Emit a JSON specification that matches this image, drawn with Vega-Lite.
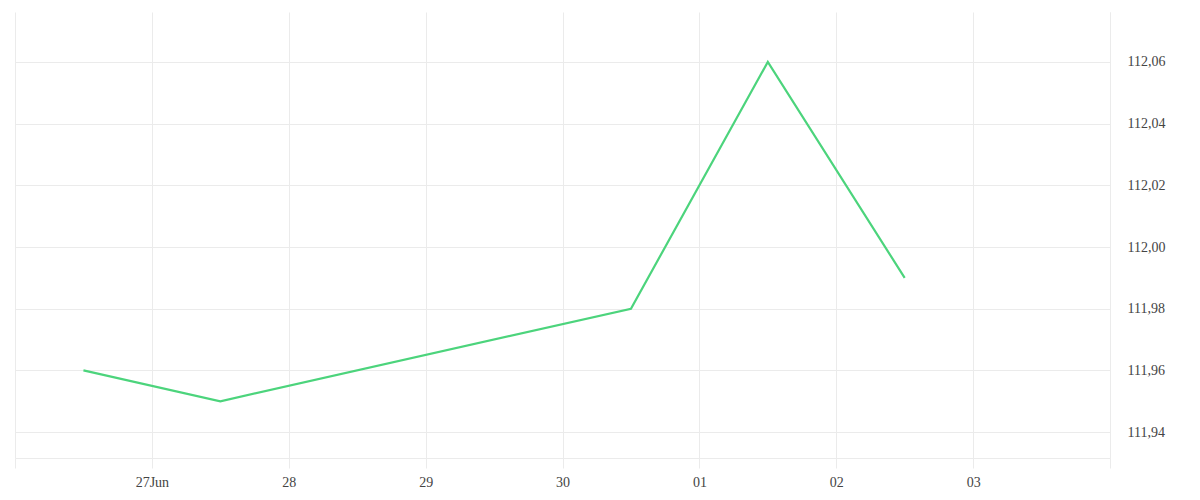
{
  "$schema": "https://vega.github.io/schema/vega-lite/v6.json",
  "width": 1095,
  "height": 446,
  "autosize": {"type": "none"},
  "padding": {"left": 15, "top": 12, "right": 90, "bottom": 42},
  "background": "white",
  "config": {
    "view": {"stroke": null},
    "axis": {"labelFont": "Liberation Serif", "labelFontSize": 14, "labelColor": "#444444", "gridColor": "#ebebeb", "gridWidth": 1}
  },
  "data": {
    "values": [
      {"date": "2024-06-26T12:00:00Z", "value": 111.96},
      {"date": "2024-06-27T12:00:00Z", "value": 111.95},
      {"date": "2024-06-30T12:00:00Z", "value": 111.98},
      {"date": "2024-07-01T12:00:00Z", "value": 112.06},
      {"date": "2024-07-02T12:00:00Z", "value": 111.99}
    ]
  },
  "mark": {"type": "line", "color": "#4cd47c", "strokeWidth": 2.2},
  "encoding": {
    "x": {
      "field": "date",
      "type": "temporal",
      "scale": {"type": "utc", "domain": [{"year": 2024, "month": 6, "date": 26, "utc": true}, {"year": 2024, "month": 7, "date": 4, "utc": true}], "nice": false},
      "axis": {
        "title": null,
        "values": [
          {"year": 2024, "month": 6, "date": 26, "utc": true},
          {"year": 2024, "month": 6, "date": 27, "utc": true},
          {"year": 2024, "month": 6, "date": 28, "utc": true},
          {"year": 2024, "month": 6, "date": 29, "utc": true},
          {"year": 2024, "month": 6, "date": 30, "utc": true},
          {"year": 2024, "month": 7, "date": 1, "utc": true},
          {"year": 2024, "month": 7, "date": 2, "utc": true},
          {"year": 2024, "month": 7, "date": 3, "utc": true},
          {"year": 2024, "month": 7, "date": 4, "utc": true}
        ],
        "labelExpr": "datum.index == 0 || datum.index == 1 ? '' : (datum.index < 0.2 ? utcFormat(datum.value, '%d%b') : utcFormat(datum.value, '%d'))",
        "grid": true,
        "domain": true,
        "domainColor": "#ebebeb",
        "ticks": true,
        "tickColor": "#ebebeb",
        "tickSize": 10,
        "labelPadding": 7,
        "labelFlush": false,
        "labelOverlap": false
      }
    },
    "y": {
      "field": "value",
      "type": "quantitative",
      "scale": {"domain": [111.9316, 112.0762], "nice": false, "zero": false},
      "axis": {
        "title": null,
        "orient": "right",
        "values": [111.94, 111.96, 111.98, 112.0, 112.02, 112.04, 112.06],
        "labelExpr": "replace(format(datum.value, '.2f'), '.', ',')",
        "grid": true,
        "domain": true,
        "domainColor": "#ebebeb",
        "ticks": false,
        "labelPadding": 17,
        "labelFlush": false,
        "labelOverlap": false
      }
    }
  }
}
